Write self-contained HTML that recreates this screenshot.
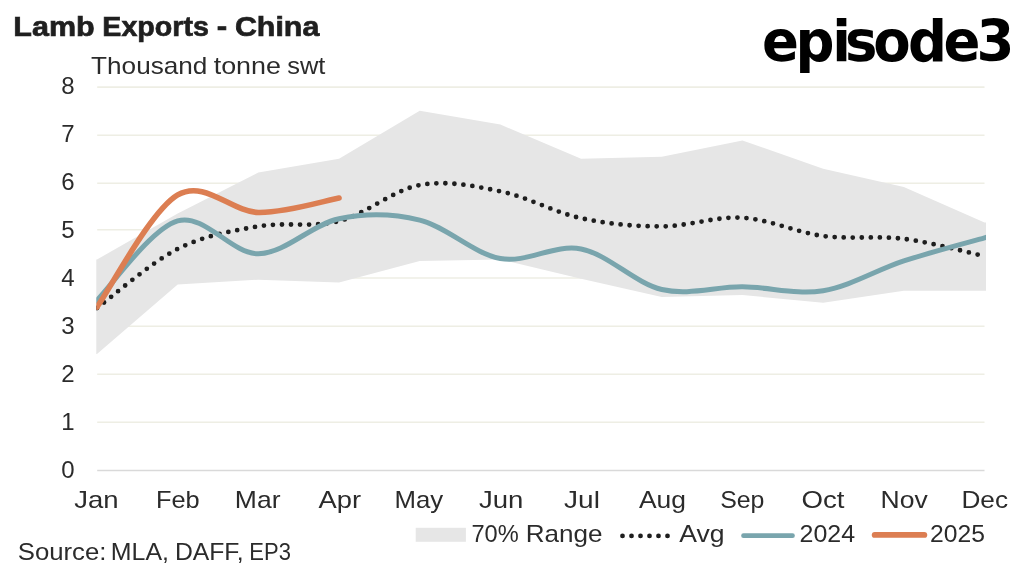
<!DOCTYPE html>
<html lang="en">
<head>
<meta charset="utf-8">
<title>Lamb Exports - China</title>
<style>
html,body{margin:0;padding:0;background:#fff;}
body{width:1024px;height:568px;overflow:hidden;}
svg{display:block;}
.t{font-family:"Liberation Sans",sans-serif;font-size:24px;fill:#2b2b2b;}
.title{font-family:"Liberation Sans",sans-serif;font-size:28.5px;font-weight:bold;fill:#1f1f1f;stroke:#1f1f1f;stroke-width:0.7px;}
.logo{font-family:"DejaVu Sans","Liberation Sans",sans-serif;font-size:57.5px;font-weight:bold;fill:#000;}
</style>
</head>
<body>
<svg width="1024" height="568" viewBox="0 0 1024 568">
<rect width="1024" height="568" fill="#ffffff"/>
<g id="grid">
<line x1="97.2" x2="984.5" y1="422.30" y2="422.30" stroke="#eeeee4" stroke-width="1.6"/>
<line x1="97.2" x2="984.5" y1="374.20" y2="374.20" stroke="#eeeee4" stroke-width="1.6"/>
<line x1="97.2" x2="984.5" y1="326.20" y2="326.20" stroke="#eeeee4" stroke-width="1.6"/>
<line x1="97.2" x2="984.5" y1="278.00" y2="278.00" stroke="#eeeee4" stroke-width="1.6"/>
<line x1="97.2" x2="984.5" y1="229.70" y2="229.70" stroke="#eeeee4" stroke-width="1.6"/>
<line x1="97.2" x2="984.5" y1="183.30" y2="183.30" stroke="#eeeee4" stroke-width="1.6"/>
<line x1="97.2" x2="984.5" y1="135.30" y2="135.30" stroke="#eeeee4" stroke-width="1.6"/>
<line x1="97.2" x2="984.5" y1="87.10" y2="87.10" stroke="#eeeee4" stroke-width="1.6"/>
<line x1="97.2" x2="984.5" y1="470.50" y2="470.50" stroke="#d9d9d9" stroke-width="1.4"/>
</g>
<defs><clipPath id="plotclip"><rect x="96.3" y="80" width="889.7" height="395"/></clipPath></defs>
<path id="band" d="M96.30,259.50 L97.00,259.50 L177.68,213.42 L258.36,172.62 L339.05,158.70 L419.73,110.70 L500.41,124.62 L581.09,158.70 L661.77,156.78 L742.45,140.46 L823.14,168.78 L903.82,187.02 L984.50,222.54 L986.00,222.54 L986.00,290.70 L984.50,290.70 L903.82,290.70 L823.14,302.70 L742.45,295.02 L661.77,296.94 L581.09,278.70 L500.41,259.50 L419.73,260.94 L339.05,282.54 L258.36,279.66 L177.68,284.46 L97.00,354.06 L96.30,354.06 Z" fill="#e6e6e6"/>
<g clip-path="url(#plotclip)">
<path id="avg" d="M97.00,307.98 C110.45,298.14 150.79,262.54 177.68,248.94 C204.58,235.34 231.47,231.02 258.36,226.38 C285.26,221.74 312.15,227.98 339.05,221.10 C365.94,214.22 392.83,190.06 419.73,185.10 C446.62,180.14 473.52,185.82 500.41,191.34 C527.30,196.86 554.20,212.38 581.09,218.22 C607.98,224.06 634.88,226.46 661.77,226.38 C688.67,226.30 715.56,216.14 742.45,217.74 C769.35,219.34 796.24,232.46 823.14,235.98 C850.03,239.50 876.92,235.50 903.82,238.86 C930.71,242.22 971.05,253.26 984.50,256.14" fill="none" stroke="#1e1e1e" stroke-width="4.8" stroke-linecap="round" stroke-dasharray="0 9.04"/>
<path id="l2024" d="M97.00,300.30 C110.45,287.06 150.79,228.62 177.68,220.86 C204.58,213.10 231.47,254.10 258.36,253.74 C285.26,253.38 312.15,224.30 339.05,218.70 C365.94,213.10 392.83,213.50 419.73,220.14 C446.62,226.78 473.52,253.74 500.41,258.54 C527.30,263.34 554.20,243.78 581.09,248.94 C607.98,254.10 634.88,283.18 661.77,289.50 C688.67,295.82 715.56,286.66 742.45,286.86 C769.35,287.06 796.24,295.02 823.14,290.70 C850.03,286.38 876.92,269.74 903.82,260.94 C930.71,252.14 971.05,241.74 984.50,237.90" fill="none" stroke="#79a5ad" stroke-width="5" stroke-linecap="square" stroke-linejoin="round"/>
<path id="l2025" d="M97.00,307.02 C110.45,288.34 150.79,210.70 177.68,194.94 C204.58,179.18 231.47,211.94 258.36,212.46 C285.26,212.98 325.60,200.46 339.05,198.06" fill="none" stroke="#dc7e52" stroke-width="5.6" stroke-linecap="round" stroke-linejoin="round"/>
</g>
<g id="ylabels">
<text x="74.6" y="478.20" text-anchor="end" class="t">0</text>
<text x="74.6" y="430.23" text-anchor="end" class="t">1</text>
<text x="74.6" y="382.26" text-anchor="end" class="t">2</text>
<text x="74.6" y="334.29" text-anchor="end" class="t">3</text>
<text x="74.6" y="286.32" text-anchor="end" class="t">4</text>
<text x="74.6" y="238.35" text-anchor="end" class="t">5</text>
<text x="74.6" y="190.38" text-anchor="end" class="t">6</text>
<text x="74.6" y="142.41" text-anchor="end" class="t">7</text>
<text x="74.6" y="94.44" text-anchor="end" class="t">8</text>
</g>
<text y="36.0" class="title"><tspan x="13.38" textLength="81.34" lengthAdjust="spacingAndGlyphs">Lamb</tspan> <tspan x="102.36" textLength="106.51" lengthAdjust="spacingAndGlyphs">Exports</tspan> <tspan x="216.80" textLength="10.44" lengthAdjust="spacingAndGlyphs">-</tspan> <tspan x="234.91" textLength="84.40" lengthAdjust="spacingAndGlyphs">China</tspan></text>
<text y="74.1" class="t"><tspan x="91.14" textLength="116.19" lengthAdjust="spacingAndGlyphs">Thousand</tspan> <tspan x="213.68" textLength="67.19" lengthAdjust="spacingAndGlyphs">tonne</tspan> <tspan x="287.23" textLength="38.13" lengthAdjust="spacingAndGlyphs">swt</tspan></text>
<text class="logo" transform="scale(0.948,1)" x="803.86 839.14 877.81 891.43 921.14 957.86 995.26 1030.09" y="61.5">episode3</text>
<g id="months">
<text x="74.25" y="507.6" textLength="44.35" lengthAdjust="spacingAndGlyphs" class="t">Jan</text>
<text x="155.97" y="507.6" textLength="43.69" lengthAdjust="spacingAndGlyphs" class="t">Feb</text>
<text x="234.82" y="507.6" textLength="45.68" lengthAdjust="spacingAndGlyphs" class="t">Mar</text>
<text x="318.56" y="507.6" textLength="42.56" lengthAdjust="spacingAndGlyphs" class="t">Apr</text>
<text x="394.58" y="507.6" textLength="48.68" lengthAdjust="spacingAndGlyphs" class="t">May</text>
<text x="478.96" y="507.6" textLength="44.36" lengthAdjust="spacingAndGlyphs" class="t">Jun</text>
<text x="564.09" y="507.6" textLength="35.80" lengthAdjust="spacingAndGlyphs" class="t">Jul</text>
<text x="638.98" y="507.6" textLength="47.01" lengthAdjust="spacingAndGlyphs" class="t">Aug</text>
<text x="720.15" y="507.6" textLength="44.29" lengthAdjust="spacingAndGlyphs" class="t">Sep</text>
<text x="801.40" y="507.6" textLength="43.00" lengthAdjust="spacingAndGlyphs" class="t">Oct</text>
<text x="880.59" y="507.6" textLength="47.14" lengthAdjust="spacingAndGlyphs" class="t">Nov</text>
<text x="961.46" y="507.6" textLength="46.56" lengthAdjust="spacingAndGlyphs" class="t">Dec</text>
</g>
<text y="559.7" class="t"><tspan x="17.77" textLength="88.67" lengthAdjust="spacingAndGlyphs">Source:</tspan> <tspan x="110.85" textLength="58.11" lengthAdjust="spacingAndGlyphs">MLA,</tspan> <tspan x="174.92" textLength="68.66" lengthAdjust="spacingAndGlyphs">DAFF,</tspan> <tspan x="249.33" textLength="41.55" lengthAdjust="spacingAndGlyphs">EP3</tspan></text>
<g id="legend">
<rect x="415.7" y="527.8" width="50.2" height="14" fill="#e6e6e6"/>
<text y="541.6" class="t"><tspan x="471.45" textLength="47.25" lengthAdjust="spacingAndGlyphs">70%</tspan> <tspan x="525.73" textLength="76.80" lengthAdjust="spacingAndGlyphs">Range</tspan></text>
<line x1="622.5" x2="668" y1="535.9" y2="535.9" stroke="#1e1e1e" stroke-width="4.8" stroke-linecap="round" stroke-dasharray="0 9"/>
<text x="679.21" y="541.6" textLength="45.29" lengthAdjust="spacingAndGlyphs" class="t">Avg</text>
<line x1="743.5" x2="792.5" y1="535.7" y2="535.7" stroke="#79a5ad" stroke-width="4.7" stroke-linecap="round"/>
<text x="799.52" y="541.6" textLength="55.51" lengthAdjust="spacingAndGlyphs" class="t">2024</text>
<line x1="874.7" x2="924.3" y1="534.9" y2="534.9" stroke="#dc7e52" stroke-width="5.9" stroke-linecap="round"/>
<text x="930.08" y="541.6" textLength="54.86" lengthAdjust="spacingAndGlyphs" class="t">2025</text>
</g>
</svg>
</body>
</html>
